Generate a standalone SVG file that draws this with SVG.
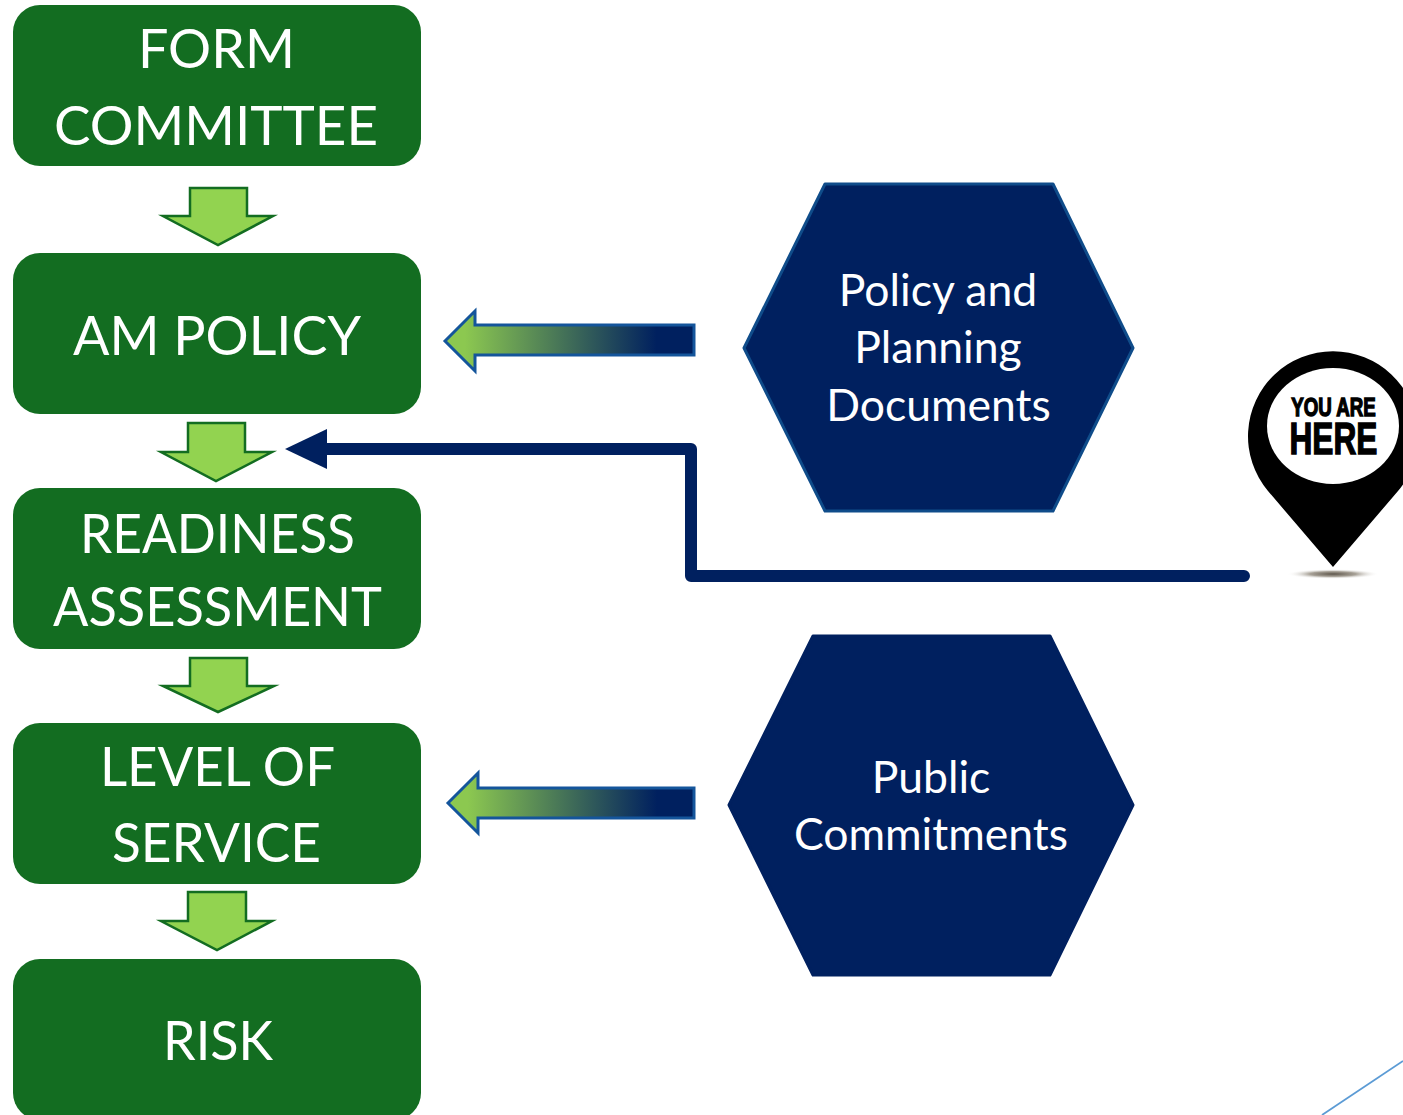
<svg xmlns="http://www.w3.org/2000/svg" width="1403" height="1115" viewBox="0 0 1403 1115">
<style>
.box{fill:#136d21}
.down{fill:#92d350;stroke:#136d21;stroke-width:2.5;stroke-miterlimit:10}
.hex{fill:#00205f;stroke:#0f4c8a;stroke-width:3;stroke-linejoin:round}
.left{fill:url(#fade);stroke:#14559b;stroke-width:3;stroke-miterlimit:10}
.t{font-family:Lato,"Liberation Sans",sans-serif;fill:#fff;text-anchor:middle}
.big{font-size:55px}
.mid{font-size:44.5px}
.pin{font-family:"Liberation Sans",sans-serif;font-weight:bold;fill:#000;stroke:#000;text-anchor:middle}
</style>
<defs>
<linearGradient id="fade" x1="0" x2="1" y1="0" y2="0"><stop offset="0.08" stop-color="#8cc850"/><stop offset="0.85" stop-color="#00205f"/></linearGradient>
<radialGradient id="shadow"><stop offset="0" stop-color="#5f574c"/><stop offset="0.5" stop-color="#a8a298"/><stop offset="1" stop-color="#fff" stop-opacity="0"/></radialGradient>
</defs>
<rect width="1403" height="1115" fill="#fff"/>
<g id="connectors">
<polygon id="d1" class="down" points="190,188 247,188 247,216 273,216 218,245 163,216 190,216"/>
<polygon id="d2" class="down" points="188,423 245,423 245,452 272,452 216,481 161,452 188,452"/>
<polygon id="d3" class="down" points="190,658 247,658 247,686 274,686 218,712 163,686 190,686"/>
<polygon id="d4" class="down" points="188,892 246,892 246,921 272,921 217,950 161,921 188,921"/>
<polygon id="l1" class="left" points="445,341 475,311 475,325 694,325 694,355 475,355 475,371"/>
<polygon id="l2" class="left" points="448,803 478,773 478,788 694,788 694,818 478,818 478,833"/>
<path id="here-line" d="M1244,576H691V449H320" fill="none" stroke="#00205f" stroke-width="12" stroke-linecap="round" stroke-linejoin="round"/>
<polygon fill="#00205f" points="285,449 327,429 327,469"/>
<line x1="1403" y1="1061" x2="1322" y2="1115" stroke="#5b9bd5" stroke-width="1.8"/>
</g>
<g id="form-committee"><rect class="box" x="13" y="5" width="408" height="161" rx="27"/><text class="t big" x="216.5" y="68" textLength="157" lengthAdjust="spacingAndGlyphs">FORM</text><text class="t big" x="216" y="145" textLength="324" lengthAdjust="spacingAndGlyphs">COMMITTEE</text></g>
<g id="am-policy"><rect class="box" x="13" y="253" width="408" height="161" rx="27"/><text class="t big" x="217" y="355" textLength="288" lengthAdjust="spacingAndGlyphs">AM POLICY</text></g>
<g id="readiness"><rect class="box" x="13" y="488" width="408" height="161" rx="27"/><text class="t big" x="217.5" y="553" textLength="275" lengthAdjust="spacingAndGlyphs">READINESS</text><text class="t big" x="217.5" y="626" textLength="329" lengthAdjust="spacingAndGlyphs">ASSESSMENT</text></g>
<g id="level-of-service"><rect class="box" x="13" y="723" width="408" height="161" rx="27"/><text class="t big" x="217.5" y="786" textLength="235" lengthAdjust="spacingAndGlyphs">LEVEL OF</text><text class="t big" x="216.5" y="862" textLength="209" lengthAdjust="spacingAndGlyphs">SERVICE</text></g>
<g id="risk"><rect class="box" x="13" y="959" width="408" height="161" rx="27"/><text class="t big" x="218" y="1060" textLength="110" lengthAdjust="spacingAndGlyphs">RISK</text></g>
<g id="policy-docs"><polygon class="hex" points="825,184 1053,184 1133,348 1053,511 825,511 744,348"/><text class="t mid" x="938" y="306">Policy and</text><text class="t mid" x="938" y="363">Planning</text><text class="t mid" x="938.5" y="421">Documents</text></g>
<g id="public-commitments"><polygon class="hex" points="813,636 1050,636 1133,805 1050,975 813,975 729,805" style="stroke:#00205f"/><text class="t mid" x="931" y="793">Public</text><text class="t mid" x="931" y="850">Commitments</text></g>
<g id="you-are-here">
<ellipse cx="1333" cy="574" rx="46" ry="5" fill="url(#shadow)"/>
<path d="M1333,567L1268,491A85,85 0 1 1 1398,491Z" fill="#000"/>
<ellipse cx="1333" cy="426" rx="66" ry="58" fill="#fff"/>
<text class="pin" transform="translate(1333.5,0) scale(.72,1)" stroke-width="1.4"><tspan x="0" y="416" font-size="26">YOU ARE</tspan><tspan x="0" y="454" font-size="44">HERE</tspan></text>
</g>
</svg>
